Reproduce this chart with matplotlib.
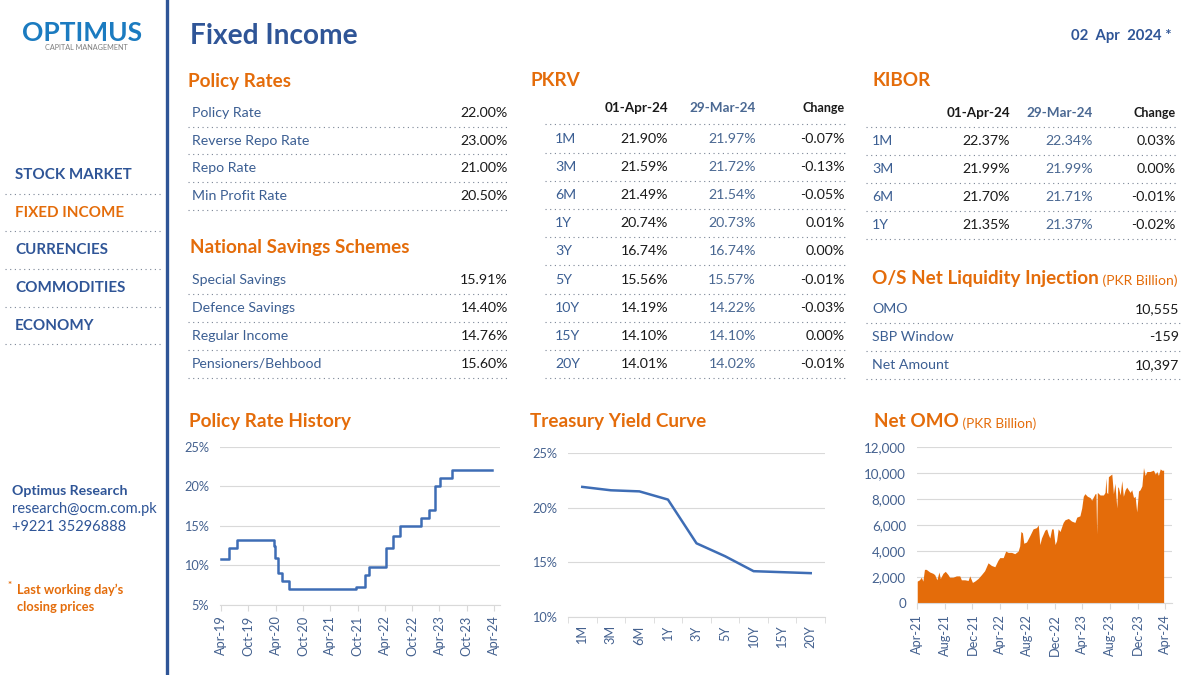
import matplotlib
matplotlib.use('Agg')
import matplotlib.pyplot as plt
import matplotlib.dates as mdates
import matplotlib.ticker as mticker
import pandas as pd

plt.rcParams['font.family'] = ['Lato', 'DejaVu Sans']

# ---- data ----
menu_items = ['STOCK MARKET', 'FIXED INCOME', 'CURRENCIES', 'COMMODITIES', 'ECONOMY']
active_item = 'FIXED INCOME'

policy_labels = ['Policy Rate', 'Reverse Repo Rate', 'Repo Rate', 'Min Profit Rate']
policy_values = ['22.00%', '23.00%', '21.00%', '20.50%']

nss_labels = ['Special Savings', 'Defence Savings', 'Regular Income', 'Pensioners/Behbood']
nss_values = ['15.91%', '14.40%', '14.76%', '15.60%']

pkrv_tenors = ['1M', '3M', '6M', '1Y', '3Y', '5Y', '10Y', '15Y', '20Y']
pkrv_now = [21.90, 21.59, 21.49, 20.74, 16.74, 15.56, 14.19, 14.10, 14.01]
pkrv_prev = [21.97, 21.72, 21.54, 20.73, 16.74, 15.57, 14.22, 14.10, 14.02]
pkrv_chg = [-0.07, -0.13, -0.05, 0.01, 0.00, -0.01, -0.03, 0.00, -0.01]

kibor_tenors = ['1M', '3M', '6M', '1Y']
kibor_now = [22.37, 21.99, 21.70, 21.35]
kibor_prev = [22.34, 21.99, 21.71, 21.37]
kibor_chg = [0.03, 0.00, -0.01, -0.02]

liq_labels = ['OMO', 'SBP Window', 'Net Amount']
liq_values = [10555, -159, 10397]

# policy rate step history
pr_dates = ['2019-04-01', '2019-05-21', '2019-07-17', '2020-03-18', '2020-03-25',
            '2020-04-17', '2020-05-16', '2020-06-26', '2021-09-21', '2021-11-20',
            '2021-12-15', '2022-04-08', '2022-05-24', '2022-07-08', '2022-11-28',
            '2023-01-24', '2023-03-03', '2023-04-05', '2023-06-27', '2024-03-19']
pr_vals = [10.75, 12.25, 13.25, 12.50, 11.00, 9.00, 8.00, 7.00, 7.25, 8.75,
           9.75, 12.25, 13.75, 15.00, 16.00, 17.00, 20.00, 21.00, 22.00, 22.00]

# net OMO (PKR bn)
omo_dates = ['2021-04-01', '2021-04-11', '2021-04-19', '2021-04-26', '2021-05-03', '2021-05-11',
             '2021-05-26', '2021-06-09', '2021-06-17', '2021-06-27', '2021-07-06', '2021-07-12',
             '2021-07-24', '2021-08-03', '2021-08-15', '2021-08-22', '2021-09-06', '2021-09-21',
             '2021-10-06', '2021-10-13', '2021-10-28', '2021-11-12', '2021-11-19', '2021-12-01',
             '2021-12-11', '2021-12-26', '2022-01-10', '2022-01-24', '2022-02-08', '2022-02-23',
             '2022-03-10', '2022-03-24', '2022-04-01', '2022-04-16', '2022-04-27', '2022-05-08',
             '2022-05-23', '2022-06-06', '2022-06-21', '2022-06-28', '2022-07-03', '2022-07-10',
             '2022-07-16', '2022-07-28', '2022-08-12', '2022-08-26', '2022-09-10', '2022-09-18',
             '2022-09-25', '2022-10-02', '2022-10-17', '2022-10-25', '2022-11-01', '2022-11-08',
             '2022-11-16', '2022-11-23', '2022-12-01', '2022-12-08', '2022-12-15', '2022-12-23',
             '2023-01-06', '2023-01-14', '2023-01-29', '2023-02-12', '2023-02-27', '2023-03-07',
             '2023-03-21', '2023-03-29', '2023-04-05', '2023-04-12', '2023-04-23', '2023-05-05',
             '2023-05-12', '2023-05-27', '2023-05-31', '2023-06-03', '2023-06-06', '2023-06-18',
             '2023-07-03', '2023-07-10', '2023-07-14', '2023-07-17', '2023-07-22', '2023-07-25',
             '2023-08-01', '2023-08-09', '2023-08-16', '2023-08-23', '2023-08-31', '2023-09-04',
             '2023-09-07', '2023-09-15', '2023-09-22', '2023-09-29', '2023-10-07', '2023-10-14',
             '2023-10-21', '2023-10-29', '2023-11-05', '2023-11-13', '2023-11-20', '2023-11-27',
             '2023-12-05', '2023-12-12', '2023-12-20', '2023-12-27', '2024-01-03', '2024-01-11',
             '2024-01-25', '2024-02-09', '2024-02-17', '2024-02-24', '2024-03-02', '2024-03-10',
             '2024-03-17', '2024-03-25']
omo_vals = [1700, 1800, 2000, 1700, 2600, 2600, 2400, 2300, 2200, 1800, 2400, 1900,
            2300, 2450, 2200, 2000, 2000, 2100, 2100, 1800, 1800, 1750, 2100, 1600,
            1700, 1900, 2200, 2500, 3100, 2900, 2800, 3300, 3500, 3500, 4000, 3900,
            3900, 3800, 4000, 4400, 5500, 5400, 4600, 4700, 5200, 5700, 5800, 6000,
            4500, 5000, 5600, 5700, 5300, 5000, 5700, 5700, 4500, 4800, 5700, 5500,
            6200, 6400, 6500, 6300, 6200, 6600, 6700, 7300, 8200, 8400, 8200, 8100,
            7900, 8400, 8400, 5300, 8500, 8300, 8300, 8500, 9600, 8500, 8400, 9700,
            9800, 9900, 8400, 9200, 7300, 8900, 8900, 8300, 9400, 8200, 8700, 8900,
            8700, 8500, 8700, 8100, 8200, 7000, 8600, 8700, 9000, 10400, 9800, 10100,
            10100, 10200, 9900, 10100, 9800, 10300, 10200, 10200]

# ---- styles ----
W, H = 1200, 675
BLUE = '#2F5597'
LBL = '#3C5F93'
ORANGE = '#E46C0A'
NUM = '#1A1A1A'
PREV = '#4A6892'
TICK = '#44618F'
GRID = '#D9D9D9'
LINE = '#3E6DB5'
DOT = '#7A8596'
ROW = 10.2
HEAD = 13.6

fig = plt.figure(figsize=(12, 6.75), dpi=100)
bg = fig.add_axes([0, 0, 1, 1])
bg.set_xlim(0, W)
bg.set_ylim(H, 0)
bg.axis('off')


def dots(x0, x1, y):
    bg.plot([x0, x1], [y, y], color=DOT, lw=0.8, ls=(0, (1, 3.2)))


def t(x, y, s, **kw):
    kw.setdefault('va', 'center')
    return bg.text(x, y, s, **kw)


# sidebar
bg.plot([167, 167], [0, H], color=BLUE, lw=2.4)
t(22, 33, 'OPTIMUS', fontsize=19, fontweight='bold', color='#1B7BC0')
t(45, 47, 'CAPITAL MANAGEMENT', fontsize=5.2, color='#7F7F7F')
for i, item in enumerate(menu_items):
    y = 175 + i * 37.7
    t(15, y, item, fontsize=10.9, fontweight='bold',
      color=ORANGE if item == active_item else BLUE)
    dots(5, 163, y + 18.5)

t(12, 491, 'Optimus Research', fontsize=10.2, fontweight='bold', color=BLUE)
t(12, 509, 'research@ocm.com.pk', fontsize=10.5, color=BLUE)
t(12, 527, '+9221 35296888', fontsize=10.5, color=BLUE)
t(8, 585, '*', fontsize=7, fontweight='bold', color=ORANGE)
t(17, 590, 'Last working day\u2019s', fontsize=9.3, fontweight='bold', color=ORANGE)
t(17, 607, 'closing prices', fontsize=9.3, fontweight='bold', color=ORANGE)

# header
t(190, 36, 'Fixed Income', fontsize=20.2, fontweight='bold', color=BLUE)
t(1172, 36, '02  Apr  2024 *', fontsize=10.7, fontweight='bold', color=BLUE, ha='right')

# policy rates
t(188, 81, 'Policy Rates', fontsize=HEAD, fontweight='bold', color=ORANGE)
for i, (lab, val) in enumerate(zip(policy_labels, policy_values)):
    y = 113 + i * 27.7
    t(192, y, lab, fontsize=ROW, color=LBL)
    t(508, y, val, fontsize=ROW, color=NUM, ha='right')
    dots(188, 510, y + 13.5)

t(190, 247, 'National Savings Schemes', fontsize=HEAD, fontweight='bold', color=ORANGE)
for i, (lab, val) in enumerate(zip(nss_labels, nss_values)):
    y = 280 + i * 28
    t(192, y, lab, fontsize=ROW, color=LBL)
    t(508, y, val, fontsize=ROW, color=NUM, ha='right')
    dots(188, 510, y + 14)

# PKRV table
t(531, 81, 'PKRV', fontsize=HEAD, fontweight='bold', color=ORANGE)
t(668, 108, '01-Apr-24', fontsize=9.7, fontweight='bold', color=NUM, ha='right')
t(756, 108, '29-Mar-24', fontsize=9.7, fontweight='bold', color=PREV, ha='right')
t(845, 108, 'Change', fontsize=9, fontweight='bold', color=NUM, ha='right')
dots(545, 847, 124)
for i, ten in enumerate(pkrv_tenors):
    y = 139 + i * 28.1
    t(555, y, ten, fontsize=ROW, color=LBL)
    t(668, y, f'{pkrv_now[i]:.2f}%', fontsize=ROW, color=NUM, ha='right')
    t(756, y, f'{pkrv_prev[i]:.2f}%', fontsize=ROW, color=PREV, ha='right')
    t(845, y, f'{pkrv_chg[i]:.2f}%', fontsize=ROW, color=NUM, ha='right')
    dots(545, 847, y + 14)

# KIBOR table
t(872, 81, 'KIBOR', fontsize=HEAD, fontweight='bold', color=ORANGE)
t(1010, 113, '01-Apr-24', fontsize=9.7, fontweight='bold', color=NUM, ha='right')
t(1093, 113, '29-Mar-24', fontsize=9.7, fontweight='bold', color=PREV, ha='right')
t(1176, 113, 'Change', fontsize=9, fontweight='bold', color=NUM, ha='right')
dots(866, 1178, 127)
for i, ten in enumerate(kibor_tenors):
    y = 141 + i * 28
    t(872, y, ten, fontsize=ROW, color=LBL)
    t(1010, y, f'{kibor_now[i]:.2f}%', fontsize=ROW, color=NUM, ha='right')
    t(1093, y, f'{kibor_prev[i]:.2f}%', fontsize=ROW, color=PREV, ha='right')
    t(1176, y, f'{kibor_chg[i]:.2f}%', fontsize=ROW, color=NUM, ha='right')
    dots(866, 1178, y + 14)

# liquidity
h1 = t(872, 284, 'O/S Net Liquidity Injection', fontsize=HEAD, fontweight='bold',
       color=ORANGE, va='baseline')
bg.annotate(' (PKR Billion)', xy=(1, 0), xycoords=h1, fontsize=10, color=ORANGE,
            va='bottom', ha='left')
for i, (lab, val) in enumerate(zip(liq_labels, liq_values)):
    y = 309 + i * 28
    t(872, y, lab, fontsize=ROW, color=LBL)
    t(1179, y, f'{val:,}', fontsize=ROW, color=NUM, ha='right')
    dots(866, 1180, y + 14)

# chart titles
t(189, 421, 'Policy Rate History', fontsize=HEAD, fontweight='bold', color=ORANGE)
t(530, 421, 'Treasury Yield Curve', fontsize=HEAD, fontweight='bold', color=ORANGE)
h2 = t(874, 427, 'Net OMO', fontsize=HEAD, fontweight='bold', color=ORANGE, va='baseline')
bg.annotate(' (PKR Billion)', xy=(1, 0), xycoords=h2, fontsize=9.8, color=ORANGE,
            va='bottom', ha='left')


def add_ax(l, r, top, bot):
    ax = fig.add_axes([l / W, 1 - bot / H, (r - l) / W, (bot - top) / H])
    ax.set_facecolor('none')
    for s in ['top', 'right', 'left']:
        ax.spines[s].set_visible(False)
    ax.spines['bottom'].set_color(GRID)
    ax.grid(axis='y', color=GRID, lw=0.8)
    ax.set_axisbelow(True)
    ax.tick_params(axis='y', length=0, labelsize=9.2, labelcolor=TICK, pad=8)
    ax.tick_params(axis='x', length=4, color=GRID, labelsize=9.2, labelcolor=TICK,
                   labelrotation=90)
    return ax


# policy rate history
ax1 = add_ax(220, 500, 446.7, 605)
d = pd.to_datetime(pr_dates)
ax1.step(d, pr_vals, where='post', color=LINE, lw=1.8)
ax1.set_ylim(5, 25)
ax1.set_yticks([5, 10, 15, 20, 25])
ax1.yaxis.set_major_formatter(mticker.FormatStrFormatter('%d%%'))
ax1.set_xlim(pd.Timestamp('2019-03-25'), pd.Timestamp('2024-05-10'))
ax1.xaxis.set_major_locator(mdates.MonthLocator(bymonth=(4, 10)))
ax1.xaxis.set_major_formatter(mdates.DateFormatter('%b-%y'))

# yield curve
ax2 = add_ax(568, 825, 453, 617)
xs = list(range(len(pkrv_tenors)))
ax2.plot(xs, pkrv_now, color=LINE, lw=1.8)
ax2.set_ylim(10, 25)
ax2.set_yticks([10, 15, 20, 25])
ax2.yaxis.set_major_formatter(mticker.FormatStrFormatter('%d%%'))
ax2.set_xlim(-0.5, len(pkrv_tenors) - 0.5)
ax2.set_xticks(xs)
ax2.set_xticklabels(pkrv_tenors)
ax2.tick_params(axis='x', which='major', length=0, pad=6)
ax2.set_xticks([x - 0.5 for x in range(len(pkrv_tenors) + 1)], minor=True)
ax2.tick_params(axis='x', which='minor', length=4, color=GRID)

# net OMO
ax3 = add_ax(917, 1172, 446.7, 603.3)
od = pd.to_datetime(omo_dates)
ax3.fill_between(od, omo_vals, 0, color=ORANGE, lw=0)
ax3.set_ylim(0, 12000)
ax3.set_yticks(range(0, 12001, 2000))
ax3.yaxis.set_major_formatter(mticker.StrMethodFormatter('{x:,.0f}'))
ax3.tick_params(axis='y', labelsize=9.6)
ax3.set_xlim(pd.Timestamp('2021-03-31'), pd.Timestamp('2024-05-01'))
ax3.xaxis.set_major_locator(mdates.MonthLocator(bymonth=(4, 8, 12)))
ax3.xaxis.set_major_formatter(mdates.DateFormatter('%b-%y'))

fig.savefig('out.png', dpi=100)
